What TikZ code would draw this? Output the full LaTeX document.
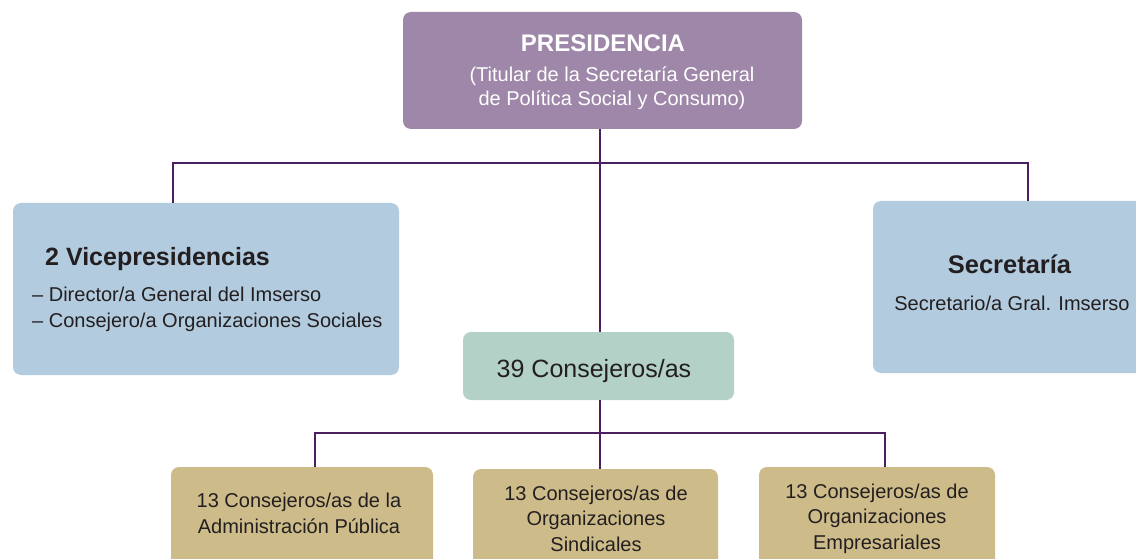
\documentclass[tikz,border=0pt]{standalone}
\usepackage{fontspec}
\setmainfont{Liberation Sans}

\definecolor{presfill}{RGB}{158,135,168}
\definecolor{vicefill}{RGB}{179,203,223}
\definecolor{consfill}{RGB}{179,209,198}
\definecolor{grpfill}{RGB}{205,188,137}
\definecolor{linkcol}{RGB}{75,30,95}
\definecolor{inkcol}{RGB}{35,31,32}

\tikzset{
  box/.style={rounded corners=8pt, inner sep=0pt},
  link/.style={draw=linkcol, line width=2.2pt},
  txt/.style={text=inkcol, anchor=base, inner sep=0pt, align=center,
    font=\fontsize{20}{25.5}\selectfont},
  head/.style={txt, font=\bfseries\fontsize{25}{30}\selectfont},
}

\begin{document}
\begin{tikzpicture}[x=1pt, y=-1pt]
    \useasboundingbox (0,0) rectangle (1136,559);
    \clip (0,0) rectangle (1136,559);

    % boxes
    \node[box, fill=presfill, minimum width=399pt, minimum height=117pt] (pres) at (602.5,70.5) {};
    \node[box, fill=vicefill, minimum width=386pt, minimum height=172pt] (vice) at (206,289) {};
    \node[box, fill=vicefill, minimum width=280pt, minimum height=172pt] (secr) at (1013,287) {};
    \node[box, fill=consfill, minimum width=271pt, minimum height=68pt] (cons) at (598.5,366) {};
    \node[box, fill=grpfill, minimum width=262pt, minimum height=108pt] (admin) at (302,521) {};
    \node[box, fill=grpfill, minimum width=245pt, minimum height=106pt] (sind) at (595.5,522) {};
    \node[box, fill=grpfill, minimum width=236pt, minimum height=108pt] (empr) at (877,521) {};

    % texts (multi-line nodes sit on their last baseline)
    \node[head, text=white, font=\bfseries\fontsize{24}{29}\selectfont] (pres-t) at (603,52) {PRESIDENCIA};
    \node[txt, text=white, font=\fontsize{20}{24}\selectfont] (pres-s) at (612,106)
        {(Titular de la Secretaría General\\de Política Social y Consumo)};
    \node[head, anchor=base west] (vice-t) at (45,265) {2 Vicepresidencias};
    \node[txt, anchor=base west, align=left] (vice-s) at (32,327)
        {– Director/a General del Imserso\\– Consejero/a Organizaciones Sociales};
    \node[head, font=\bfseries\fontsize{25.5}{30}\selectfont] (secr-t) at (1009.5,273) {Secretaría};
    \node[txt] (secr-s) at (1012,310) {Secretario/a Gral. Imserso};
    \node[txt, font=\fontsize{25}{30}\selectfont] (cons-t) at (594,377) {39 Consejeros/as};
    \node[txt] (admin-t) at (299,533) {13 Consejeros/as de la\\Administración Pública};
    \node[txt] (sind-t) at (596,551) {13 Consejeros/as de\\Organizaciones\\Sindicales};
    \node[txt] (empr-t) at (877,549) {13 Consejeros/as de\\Organizaciones\\Empresariales};

    % connectors
    \coordinate (spine) at (600,163);
    \coordinate (vleg) at (173,163);
    \coordinate (sleg) at (1028,163);
    \coordinate (aleg) at (315,433);
    \coordinate (eleg) at (885,433);

    \draw[link] (vleg |- vice.north) -- (vleg) -- (sleg) -- (sleg |- secr.north);
    \draw[link] (pres.south -| spine) -- (cons.north -| spine);
    \draw[link] (aleg |- admin.north) -- (aleg) -- (eleg) -- (eleg |- empr.north);
    \draw[link] (cons.south -| spine) -- (sind.north -| spine);

\end{tikzpicture}
\end{document}
